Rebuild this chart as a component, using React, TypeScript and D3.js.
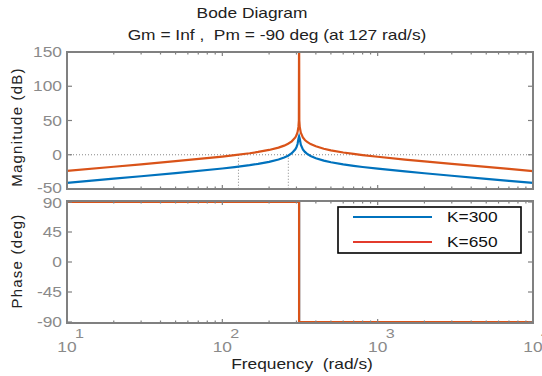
import React, { useEffect, useRef } from 'react';
import * as d3 from 'd3';

// frequencies (rad/s) and magnitudes (dB)
const freq = [10, 20, 30, 50, 100, 120, 150, 170, 200, 230, 250, 265, 280, 295, 300, 305, 309, 311, 312, 313, 315, 320, 330, 340, 350, 370, 400, 450, 500, 600, 700, 800, 1000, 1500, 2000, 3000, 5000, 7000, 10000];
const magK300 = [-41.0, -34.9, -31.4, -26.8, -20.1, -18.0, -15.2, -13.3, -10.4, -7.0, -4.1, -1.4, 2.2, 7.9, 11.0, 15.7, 23.2, 26.0, 27.0, 26.0, 23.3, 14.8, 7.9, 4.2, 1.6, -1.8, -5.1, -8.6, -10.9, -14.1, -16.2, -17.9, -20.3, -24.4, -27.0, -30.7, -35.2, -38.1, -41.2];
const magK650 = [-23.6, -17.5, -14.0, -9.4, -2.7, -0.6, 2.2, 4.1, 7.0, 10.4, 13.3, 16.0, 19.6, 25.3, 28.4, 33.1, 40.6, 50.2, 200, 50.2, 40.7, 32.2, 25.3, 21.6, 19.0, 15.6, 12.3, 8.8, 6.5, 3.3, 1.2, -0.5, -2.9, -7.0, -9.6, -13.3, -17.8, -20.7, -23.8];

const phaseFreq = [10, 312, 312, 10000];
const phaseK300 = [90, 90, -90, -90];
const phaseK650 = [90, 90, -90, -90];

const magTicks = [-50, 0, 50, 100, 150];
const phaseTicks = [-90, -45, 0, 45, 90];
const decades = [10, 100, 1000, 10000];
const decadeExp = ['1', '2', '3', '4'];
const crossFreqs = [127, 266];
const seriesNames = ['K=300', 'K=650'];

export default function App() {
  const svgRef = useRef<SVGSVGElement>(null);
  const width = 542;
  const height = 376;

  useEffect(() => {
    if (!svgRef.current) return;
    const svg = d3.select(svgRef.current);
    svg.selectAll('*').remove();

    const colors = { k300: '#0072bd', k650: '#d95319', legend650: '#e33b2c', axis: '#808080', label: '#8a8a8a', text: '#222' };
    const font = '"Liberation Sans", Arial, sans-serif';
    const sx = 1.24;
    const left = 67, right = 533;
    const magBox = { top: 52, bottom: 189 };
    const phBox = { top: 201, bottom: 323 };

    const x = d3.scaleLog().domain([10, 10000]).range([left, right]);
    const yMag = d3.scaleLinear().domain([-50, 150]).range([magBox.bottom, magBox.top]);
    const yPh = d3.scaleLinear().domain([-91.5, 91.5]).range([phBox.bottom, phBox.top]);

    const txt = (px: number, py: number, s: string, size: number, fill: string, anchor = 'start') =>
      svg.append('text').attr('transform', `translate(${px},${py}) scale(${sx},1)`)
        .attr('text-anchor', anchor).attr('fill', fill).style('white-space', 'pre')
        .style('font-family', font).style('font-size', `${size}px`).text(s);

    // titles
    txt(252, 18, 'Bode Diagram', 14, colors.text, 'middle');
    txt(277, 40, 'Gm = Inf ,  Pm = -90 deg (at 127 rad/s)', 14, colors.text, 'middle');

    const defs = svg.append('defs');
    defs.append('clipPath').attr('id', 'magClip').append('rect')
      .attr('x', left).attr('y', magBox.top).attr('width', right - left).attr('height', magBox.bottom - magBox.top);
    defs.append('clipPath').attr('id', 'phClip').append('rect')
      .attr('x', left).attr('y', phBox.top).attr('width', right - left).attr('height', phBox.bottom - phBox.top);

    // dotted 0 dB line and crossover markers
    svg.append('line').attr('x1', left).attr('x2', right).attr('y1', yMag(0)).attr('y2', yMag(0))
      .attr('stroke', '#888').attr('stroke-width', 1).attr('stroke-dasharray', '1,2');
    svg.selectAll('line.cross').data(crossFreqs).enter().append('line').attr('class', 'cross')
      .attr('x1', d => x(d)).attr('x2', d => x(d)).attr('y1', yMag(0)).attr('y2', magBox.bottom)
      .attr('stroke', '#888').attr('stroke-width', 1).attr('stroke-dasharray', '1,2');

    const magLine = d3.line<number>().x((_, i) => x(freq[i])).y(d => yMag(d));
    const phLine = d3.line<number>().x((_, i) => x(phaseFreq[i])).y(d => yPh(d));

    const gMag = svg.append('g').attr('clip-path', 'url(#magClip)');
    gMag.append('path').datum(magK300).attr('d', magLine).attr('fill', 'none').attr('stroke', colors.k300).attr('stroke-width', 2.2);
    gMag.append('path').datum(magK650).attr('d', magLine).attr('fill', 'none').attr('stroke', colors.k650).attr('stroke-width', 2.2);

    const gPh = svg.append('g').attr('clip-path', 'url(#phClip)');
    gPh.append('path').datum(phaseK300).attr('d', phLine).attr('fill', 'none').attr('stroke', colors.k300).attr('stroke-width', 2.2);
    gPh.append('path').datum(phaseK650).attr('d', phLine).attr('fill', 'none').attr('stroke', colors.k650).attr('stroke-width', 2.2);

    // frames, ticks
    const minor = x.ticks();
    const drawFrame = (box: { top: number; bottom: number }, y: d3.ScaleLinear<number, number>, yt: number[]) => {
      const g = svg.append('g').attr('stroke', colors.axis);
      g.append('rect').attr('x', left).attr('y', box.top).attr('width', right - left).attr('height', box.bottom - box.top)
        .attr('fill', 'none').attr('stroke-width', 2);
      minor.forEach(v => {
        const len = decades.includes(v) ? 4 : 2.5;
        g.append('line').attr('x1', x(v)).attr('x2', x(v)).attr('y1', box.bottom).attr('y2', box.bottom - len).attr('stroke-width', 1.2);
        g.append('line').attr('x1', x(v)).attr('x2', x(v)).attr('y1', box.top).attr('y2', box.top + len).attr('stroke-width', 1.2);
      });
      yt.forEach(v => {
        g.append('line').attr('x1', left).attr('x2', left + 5).attr('y1', y(v)).attr('y2', y(v)).attr('stroke-width', 1.2);
        g.append('line').attr('x1', right).attr('x2', right - 5).attr('y1', y(v)).attr('y2', y(v)).attr('stroke-width', 1.2);
      });
    };
    drawFrame(magBox, yMag, magTicks);
    drawFrame(phBox, yPh, phaseTicks);

    magTicks.forEach(v => txt(62, yMag(v) + (v === -50 ? 4 : 5), String(v), 14, colors.label, 'end'));
    phaseTicks.forEach(v => txt(62, yPh(v) + (v === 90 ? 6 : 5), String(v), 14, colors.label, 'end'));

    decades.forEach((v, i) => {
      txt(x(v), 352, '10', 14, colors.label, 'middle');
      txt(x(v) + 8, 338, decadeExp[i], 13, colors.label, 'start');
    });

    // axis titles
    txt(302, 369, 'Frequency  (rad/s)', 14, colors.text, 'middle');
    const yTitle = (cy: number, s: string) =>
      svg.append('text').attr('transform', `translate(22,${cy}) rotate(-90)`).attr('text-anchor', 'middle')
        .attr('fill', colors.text).style('font-family', font).style('font-size', '15px').style('letter-spacing', '1.2px').text(s);
    yTitle(127, 'Magnitude (dB)');
    yTitle(261, 'Phase (deg)');

    // legend
    const lg = svg.append('g');
    lg.append('rect').attr('x', 338).attr('y', 207).attr('width', 183).attr('height', 46)
      .attr('fill', '#fff').attr('stroke', '#000').attr('stroke-width', 1.6);
    seriesNames.forEach((name, i) => {
      const cy = 217 + i * 25;
      lg.append('line').attr('x1', 353).attr('x2', 432).attr('y1', cy).attr('y2', cy)
        .attr('stroke', i === 0 ? colors.k300 : colors.legend650).attr('stroke-width', 2.2);
      txt(447, cy + 5, name, 14, '#111', 'start');
    });
  }, []);

  return (
    <svg ref={svgRef} width={width} height={height} viewBox={`0 0 ${width} ${height}`}
      style={{ position: 'absolute', left: 0, top: 0, background: '#fff' }} />
  );
}
